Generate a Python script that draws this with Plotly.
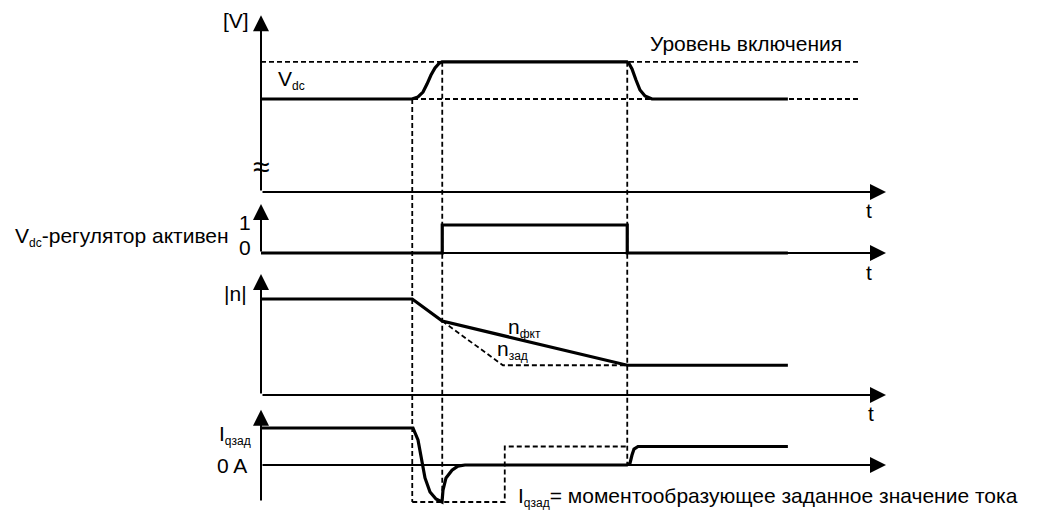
import plotly.graph_objects as go

W, H = 1038, 512
FONT = "Liberation Sans, Arial, sans-serif"

# ---- time events (arbitrary time units, axis runs 0..100) ----
T_AXIS_END = 100.0
T_GUIDE_END = 95.7

# ---- panel 1: DC-link voltage ----
vdc_t = [0, 24.16, 25.12, 25.92, 26.56, 27.2, 27.84, 28.48, 28.96,
         58.56, 58.88, 59.36, 60.0, 60.64, 61.44, 62.56, 84.3]
vdc_v = [1.0, 1.0, 1.022, 1.075, 1.161, 1.258, 1.333, 1.382, 1.4,
         1.4, 1.382, 1.323, 1.204, 1.097, 1.032, 1.0, 1.0]
VDC_NOMINAL = 1.0
VDC_ON_LEVEL = 1.4

# ---- panel 2: Vdc controller active flag ----
reg_t = [0, 29.0, 29.0, 58.6, 58.6, 84.3]
reg_v = [0, 0, 1, 1, 0, 0]

# ---- panel 3: speed magnitude ----
n_act_t = [0, 24.2, 29.0, 58.6, 84.3]
n_act_v = [1.0, 1.0, 0.77, 0.31, 0.31]
n_ref_t = [29.0, 38.7, 58.6]
n_ref_v = [0.77, 0.31, 0.31]

# ---- panel 4: torque-producing current setpoint ----
iq_t = [0, 24.32, 25.12, 25.76, 26.24, 27.04, 28.0, 28.96, 29.12, 29.6,
        30.56, 31.5, 32.64, 58.56, 59.04, 59.36, 59.68, 60.32, 84.3]
iq_v = [1.0, 1.0, 0.68, 0.14, -0.35, -0.73, -0.92, -1.0, -0.68, -0.35,
        -0.14, -0.03, 0.0, 0.0, 0.05, 0.27, 0.43, 0.5, 0.5]
iq_ref_t = [24.2, 39.0, 39.0, 58.6]
iq_ref_v = [-1.0, -1.0, 0.5, 0.5]

# ---- vertical guide lines through all panels ----
guide_t = [24.2, 29.0, 58.6]
guide_top_vdc = [1.0, 1.4, 1.4]      # start value in panel 1
guide_bottom_iq = [-1.0, -1.0, 0.0]  # end value in panel 4

# ---- axis tips per panel (in panel units) ----
axis_tip = {"y": 1.9, "y2": 1.75, "y3": 1.26, "y4": 1.49}
axis_bottom = {"y": 0.0, "y2": 0.0, "y3": 0.0, "y4": -1.0}

# layout of the stacked panels: baseline pixel row and pixels per unit
PANELS = {"y": (192, 93.0), "y2": (253, 28.0), "y3": (395, 96.0), "y4": (465, 37.0)}
X0_PX, PX_PER_T = 261, 6.25


def yrange(key):
    base, scale = PANELS[key]
    return [(base - H) / scale, base / scale]


def to_panel1(v, key):
    base, scale = PANELS[key]
    pix = base - scale * v
    b1, s1 = PANELS["y"]
    return (b1 - pix) / s1


fig = go.Figure()

SIG = dict(color="black", width=3.2)
DASH = dict(color="black", width=1.8, dash="5px,3px")

# dashed reference levels in the voltage panel
for lvl in (VDC_ON_LEVEL, VDC_NOMINAL):
    fig.add_trace(go.Scatter(x=[0, T_GUIDE_END], y=[lvl, lvl], mode="lines",
                             line=DASH, yaxis="y", hoverinfo="skip"))

# vertical guide lines
for t, top, bot in zip(guide_t, guide_top_vdc, guide_bottom_iq):
    fig.add_trace(go.Scatter(x=[t, t], y=[top, to_panel1(bot, "y4")], mode="lines",
                             line=DASH, yaxis="y", hoverinfo="skip"))

fig.add_trace(go.Scatter(x=n_ref_t, y=n_ref_v, mode="lines", line=DASH, yaxis="y3"))
fig.add_trace(go.Scatter(x=iq_ref_t, y=iq_ref_v, mode="lines", line=DASH, yaxis="y4"))

fig.add_trace(go.Scatter(x=vdc_t, y=vdc_v, mode="lines", line=SIG, yaxis="y"))
fig.add_trace(go.Scatter(x=reg_t, y=reg_v, mode="lines", line=SIG, yaxis="y2"))
fig.add_trace(go.Scatter(x=n_act_t, y=n_act_v, mode="lines", line=SIG, yaxis="y3"))
fig.add_trace(go.Scatter(x=iq_t, y=iq_v, mode="lines", line=SIG, yaxis="y4"))

annotations = []
# axes drawn as arrows
for key in PANELS:
    arrow = dict(text="", showarrow=True, arrowhead=2, arrowsize=1.6, arrowwidth=2,
                 arrowcolor="black", standoff=0, xref="x", yref=key, axref="x", ayref=key)
    annotations.append(dict(arrow, x=0, y=axis_tip[key], ax=0, ay=axis_bottom[key]))
    annotations.append(dict(arrow, x=T_AXIS_END, y=0, ax=0, ay=0))


def sub(base, s):
    return f"{base}<sub><span style='font-size:12px'>{s}</span></sub>"


def label(text, xp, yp, size=21, xanchor="center", yanchor="middle"):
    annotations.append(dict(text=text, x=xp / W, y=1 - yp / H, xref="paper", yref="paper",
                            showarrow=False, xanchor=xanchor, yanchor=yanchor,
                            font=dict(family=FONT, size=size, color="black")))


label("[V]", 251, 20, xanchor="right")
label(sub("V", "dc"), 276, 80, xanchor="left")
label("Уровень включения", 648, 43, xanchor="left")
label("≈", 261, 166, size=30)
label("t", 869, 210)
label("t", 869, 272)
label("t", 871, 413)
label(sub("V", "dc") + "-регулятор активен", 231, 237, xanchor="right")
label("1", 245, 222)
label("0", 245, 247)
label("|n|", 249, 293, xanchor="right")
label(sub("n", "фкт"), 506, 328, xanchor="left")
label(sub("n", "зад"), 495, 350, xanchor="left")
label(sub("I", "qзад"), 217, 435, xanchor="left")
label("0 A", 232, 465)
label(sub("I", "qзад") + "= моментообразующее заданное значение тока", 516, 497, xanchor="left")

layout = dict(
    width=W, height=H, autosize=False,
    margin=dict(l=0, r=0, t=0, b=0, pad=0),
    paper_bgcolor="white", plot_bgcolor="white",
    showlegend=False,
    xaxis=dict(range=[-X0_PX / PX_PER_T, (W - X0_PX) / PX_PER_T], visible=False, fixedrange=True),
    annotations=annotations,
)
for key in PANELS:
    name = "yaxis" if key == "y" else "yaxis" + key[1:]
    ax = dict(range=yrange(key), visible=False, domain=[0, 1], fixedrange=True)
    if key != "y":
        ax["overlaying"] = "y"
    layout[name] = ax

fig.update_layout(**layout)
fig.write_html("out.html", config={"displayModeBar": False})
